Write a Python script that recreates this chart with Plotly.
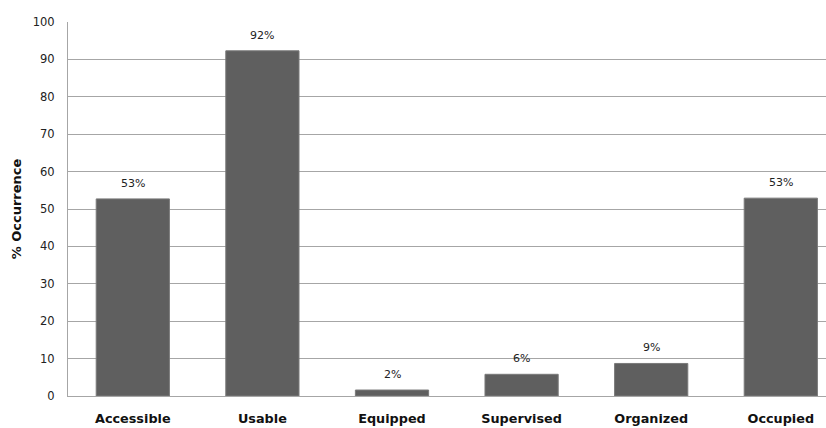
import plotly.graph_objects as go

# Share of sites showing each attribute (% occurrence)
categories = ["Accessible", "Usable", "Equipped", "Supervised", "Organized", "Occupied"]
occurrence = [52.7, 92.3, 1.6, 5.8, 8.7, 52.9]

bar_fill = "#5f5f5f"
grid_color = "#a6a6a6"
font_family = "DejaVu Sans, Verdana, sans-serif"

fig = go.Figure()
fig.add_trace(go.Bar(
    x=list(range(len(categories))),
    y=occurrence,
    width=0.565,
    marker=dict(color=bar_fill, line=dict(color="#7a7a7a", width=1)),
    hoverinfo="skip",
))

# Value labels sit a little above each bar
for i, v in enumerate(occurrence):
    fig.add_annotation(
        x=i, y=v, text=f"{round(v):d}%", showarrow=False,
        yanchor="bottom", yshift=7,
        font=dict(family=font_family, size=11, color="#222222"),
    )

fig.update_layout(
    width=826, height=428,
    margin=dict(l=68, r=0, t=22, b=32),
    paper_bgcolor="white", plot_bgcolor="white",
    showlegend=False,
    font=dict(family=font_family, color="#222222"),
)

fig.update_xaxes(
    range=[-0.5, -0.5 + 758 / 129.6],
    tickmode="array",
    tickvals=list(range(len(categories))),
    ticktext=[f"<b>{c}</b>" for c in categories],
    tickfont=dict(family=font_family, size=12.8, color="#111111"),
    showgrid=False, zeroline=False,
    showline=True, linecolor=grid_color, linewidth=1,
    ticks="", ticklabelstandoff=11,
)

fig.update_yaxes(
    range=[0, 100],
    dtick=10,
    tickfont=dict(family=font_family, size=11.5, color="#222222"),
    showgrid=True, gridcolor=grid_color, gridwidth=1,
    zeroline=False,
    showline=True, linecolor=grid_color, linewidth=1,
    ticks="", ticklabelstandoff=10,
    title=dict(text="<b>% Occurrence</b>", font=dict(family=font_family, size=13, color="#111111"), standoff=8),
)

fig.write_html("out.html")
